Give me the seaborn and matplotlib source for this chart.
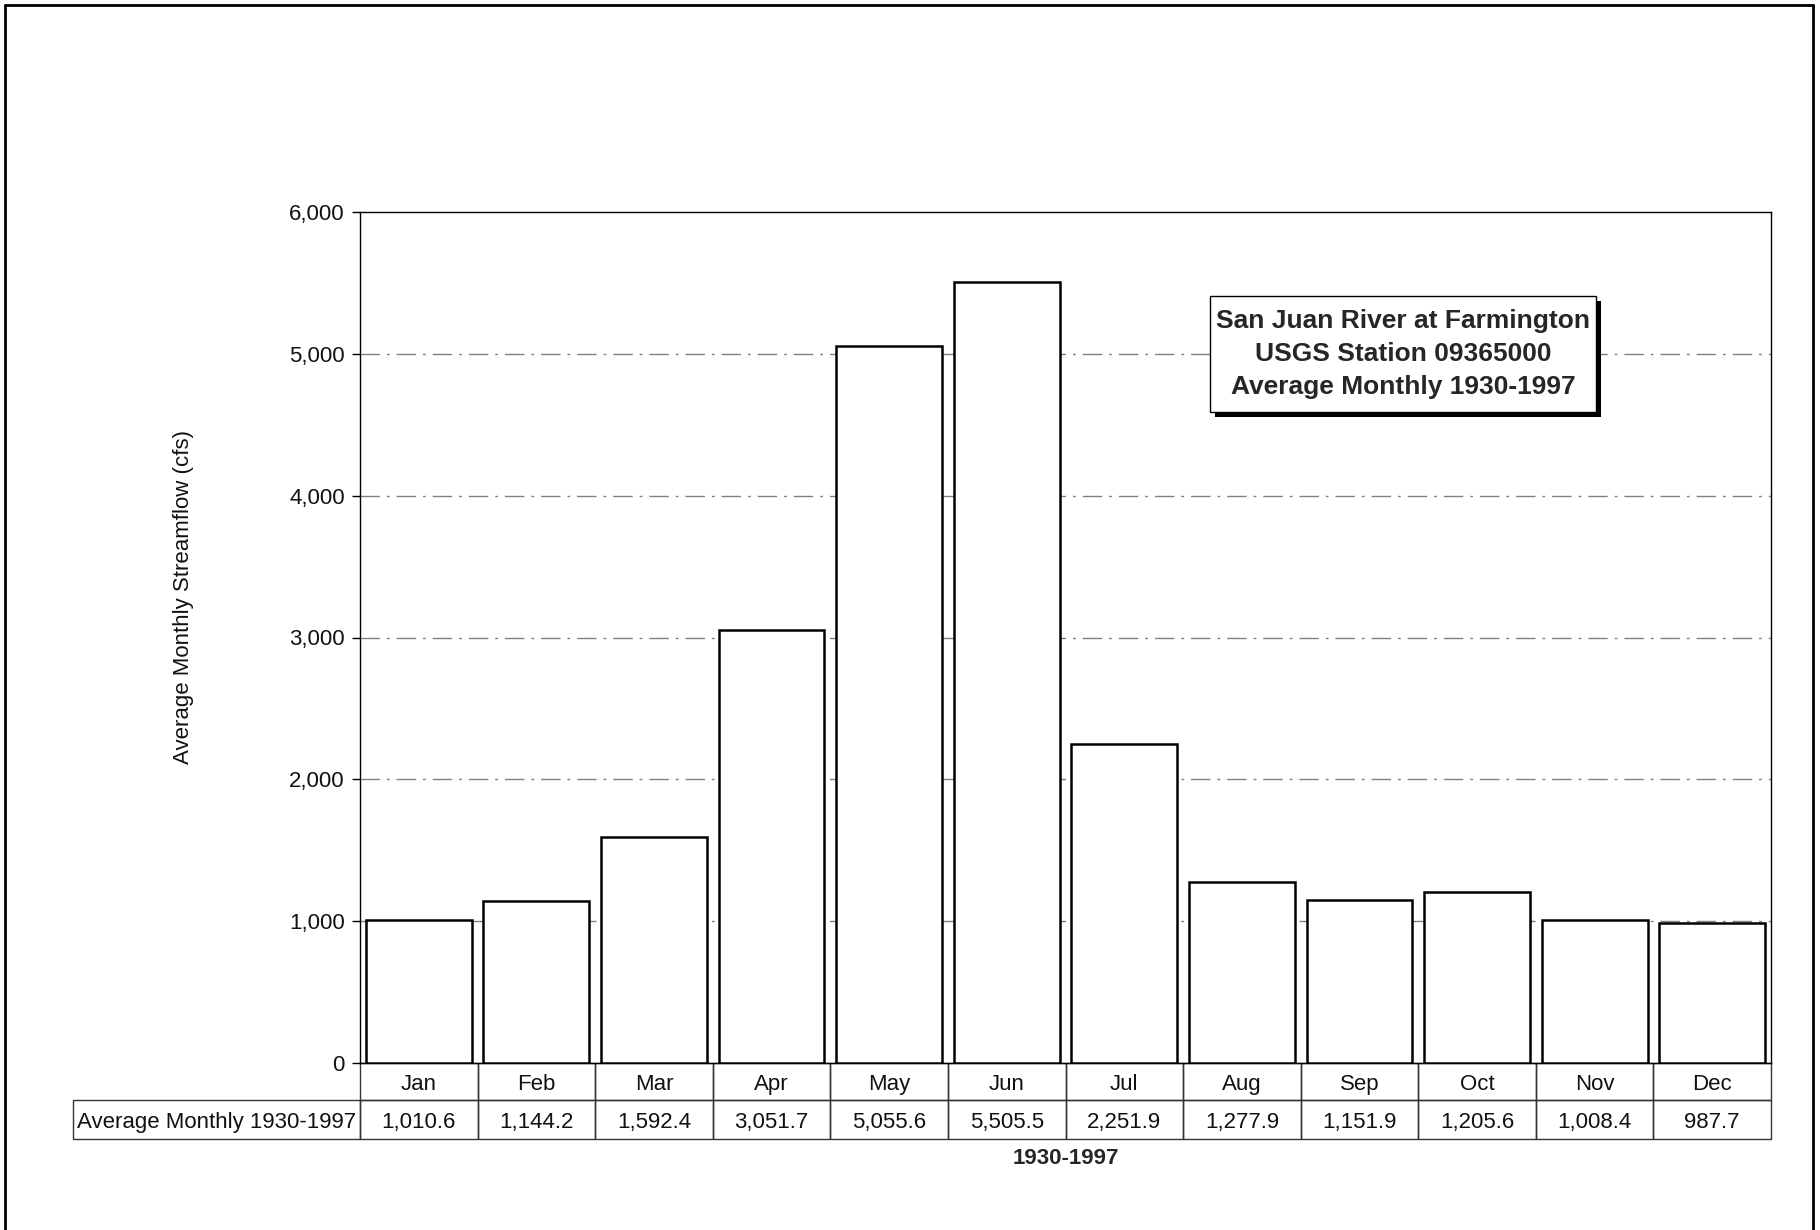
import matplotlib
matplotlib.use("Agg")
import matplotlib.pyplot as plt
import matplotlib.transforms as mtrans
from matplotlib.patches import Rectangle
from matplotlib.lines import Line2D
import seaborn as sns
import pandas as pd

months = ["Jan", "Feb", "Mar", "Apr", "May", "Jun",
          "Jul", "Aug", "Sep", "Oct", "Nov", "Dec"]
flow = [1010.6, 1144.2, 1592.4, 3051.7, 5055.6, 5505.5,
        2251.9, 1277.9, 1151.9, 1205.6, 1008.4, 987.7]
row_label = "Average Monthly 1930-1997"
title_lines = ["San Juan River at Farmington",
               "USGS Station 09365000",
               "Average Monthly 1930-1997"]
y_ticks = [0, 1000, 2000, 3000, 4000, 5000, 6000]
x_title = "1930-1997"
y_title = "Average Monthly Streamflow (cfs)"

W, H = 1820, 1230
sns.set_style("white")
plt.rcParams["font.family"] = ["Liberation Sans", "DejaVu Sans"]
fs = 16

fig = plt.figure(figsize=(W / 100, H / 100), dpi=100)


def fx(px):
    return px / W


def fy(py):
    return 1 - py / H


ax = fig.add_axes([fx(360), fy(1063), fx(1771) - fx(360), fy(212) - fy(1063)])
df = pd.DataFrame({"month": months, "flow": flow})
sns.barplot(data=df, x="month", y="flow", color="white", edgecolor="black",
            linewidth=1.8, width=0.9, saturation=1, ax=ax, zorder=3)

ax.set_xlim(-0.5, 11.5)
ax.set_ylim(0, 6000)
ax.set_yticks(y_ticks)
ax.set_yticklabels([f"{v:,}" for v in y_ticks], fontsize=fs)
ax.set_xticks([])
ax.set_xlabel("")
ax.set_ylabel("")
ax.tick_params(axis="y", direction="out", length=6, width=1, color="black",
               left=True, pad=5, labelcolor="#111111")
for s in ax.spines.values():
    s.set_color("black")
    s.set_linewidth(1.0)
for v in y_ticks[1:-1]:
    ax.axhline(v, color="#808080", lw=1, ls=(0, (14, 5, 2, 5)), zorder=1)

# data table under the bars
tr = mtrans.blended_transform_factory(ax.transData, fig.transFigure)
top, mid, bot = fy(1063), fy(1100), fy(1139)
nudge = 3 / H
for i, (m, v) in enumerate(zip(months, flow)):
    ax.add_artist(Rectangle((i - 0.5, mid), 1, top - mid, transform=tr,
                            fill=False, ec="#333333", lw=1, clip_on=False))
    ax.add_artist(Rectangle((i - 0.5, bot), 1, mid - bot, transform=tr,
                            fill=False, ec="#333333", lw=1, clip_on=False))
    ax.text(i, (top + mid) / 2 - nudge, m, transform=tr, ha="center",
            va="center", fontsize=fs, clip_on=False, color="#111111")
    ax.text(i, (mid + bot) / 2 - nudge, f"{v:,.1f}", transform=tr,
            ha="center", va="center", fontsize=fs, clip_on=False,
            color="#111111")
fig.add_artist(Rectangle((fx(73), bot), fx(360) - fx(73), mid - bot,
                         transform=fig.transFigure, fill=False,
                         ec="#333333", lw=1))
fig.text(fx(77), (mid + bot) / 2 - nudge, row_label, ha="left", va="center",
         fontsize=fs, color="#111111")

fig.text((fx(360) + fx(1771)) / 2, fy(1158), x_title, ha="center",
         va="center", fontsize=fs, weight="bold")
fig.text(fx(183), fy(597), y_title, rotation=90, ha="center", va="center",
         fontsize=fs, color="#111111")

# title box with shadow
bx0, by0, bx1, by1 = 1210, 296, 1596, 412
fig.add_artist(Rectangle((fx(bx0 + 5), fy(by1 + 5)), fx(bx1) - fx(bx0),
                         fy(by0) - fy(by1), transform=fig.transFigure,
                         fc="black", ec="none", zorder=5))
fig.add_artist(Rectangle((fx(bx0), fy(by1)), fx(bx1) - fx(bx0),
                         fy(by0) - fy(by1), transform=fig.transFigure,
                         fc="white", ec="black", lw=1, zorder=6))
fig.text(fx((bx0 + bx1) / 2), fy((by0 + by1) / 2), "\n".join(title_lines),
         ha="center", va="center", fontsize=19, weight="bold",
         linespacing=1.45, zorder=7)

# outer frame
for xs, ys in [([5, 5], [5, 1230]), ([5, 1813], [5, 5]), ([1813, 1813], [5, 1230])]:
    fig.add_artist(Line2D([fx(x) for x in xs], [fy(y) for y in ys],
                          transform=fig.transFigure, color="black", lw=2))

fig.savefig("out.png", dpi=100)
